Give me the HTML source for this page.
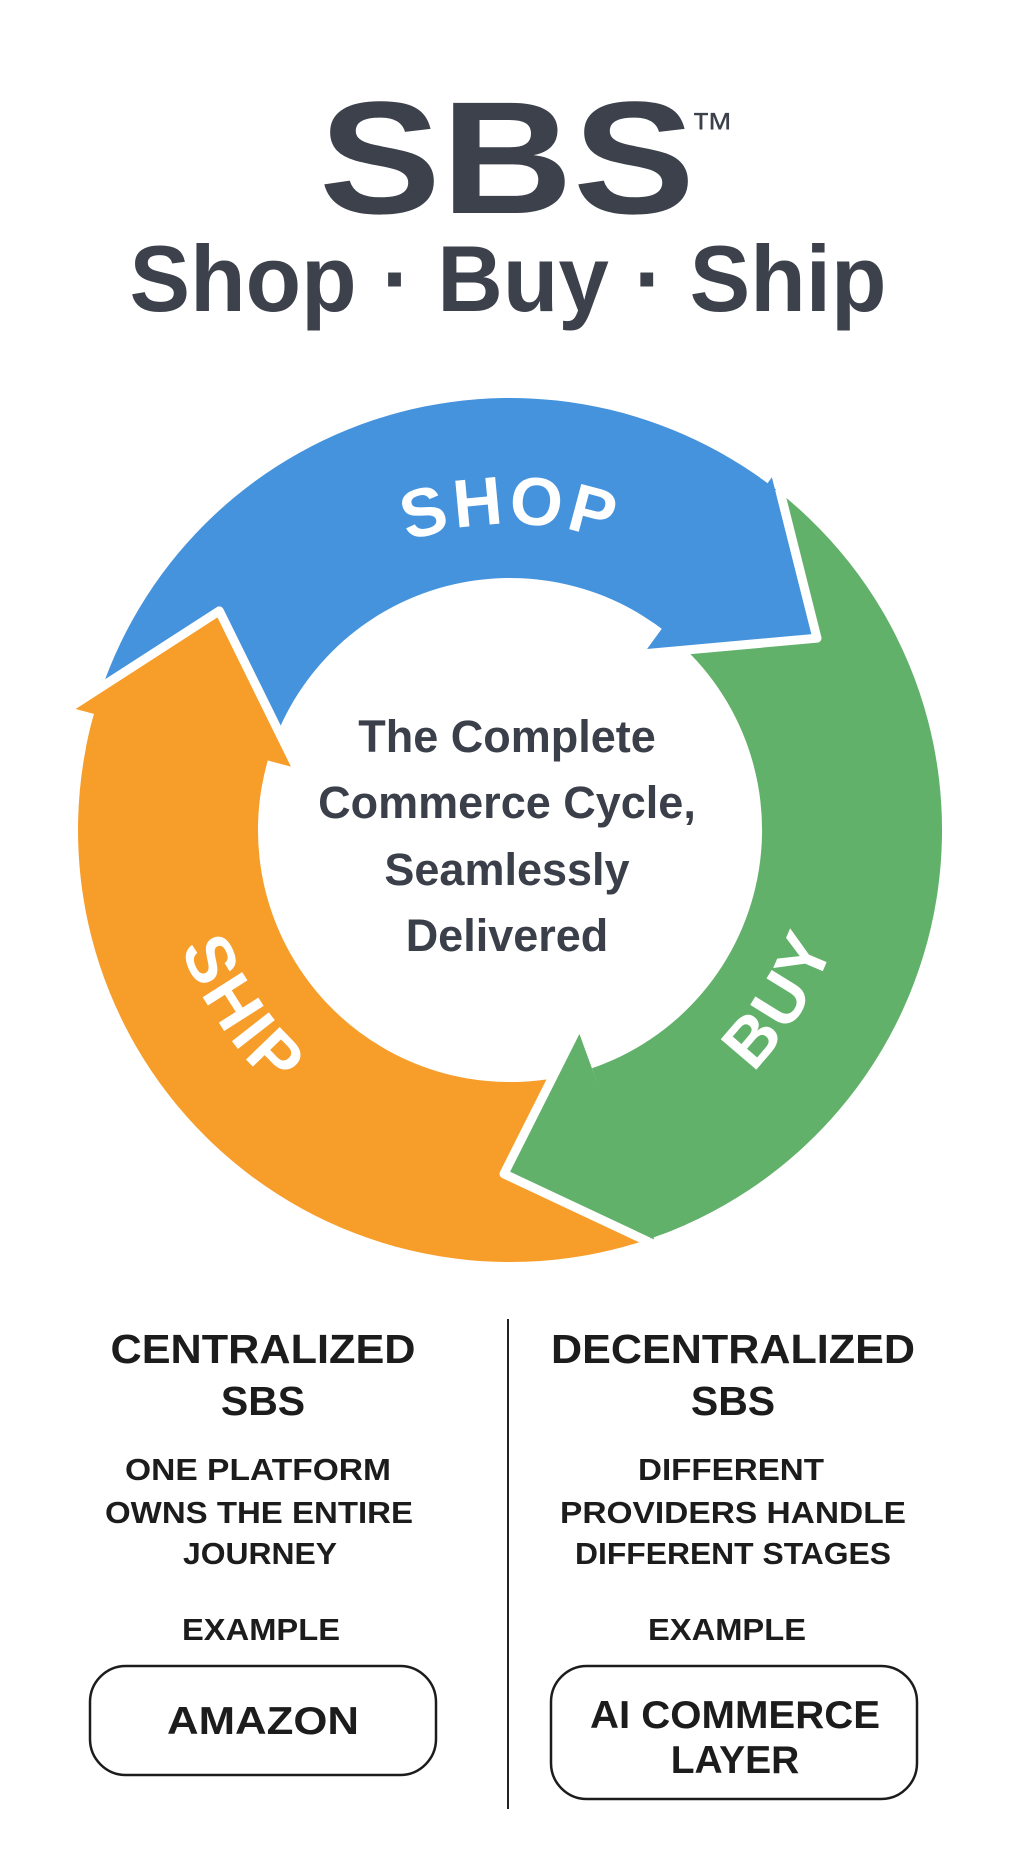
<!DOCTYPE html>
<html><head><meta charset="utf-8"><style>
html,body{margin:0;padding:0;background:#fff;}
svg{display:block;}
</style></head><body>
<svg width="1015" height="1854" viewBox="0 0 1015 1854" xmlns="http://www.w3.org/2000/svg">
<rect width="1015" height="1854" fill="#fff"/>
<g font-family="Liberation Sans, Arial, sans-serif" fill="#3c414b" font-weight="bold" text-anchor="middle">
<text x="507" y="213" font-size="160" textLength="376" lengthAdjust="spacingAndGlyphs">SBS</text>
<text x="712" y="143" font-size="44" font-weight="normal">™</text>
<text x="508" y="311" font-size="94" textLength="757" lengthAdjust="spacingAndGlyphs">Shop · Buy · Ship</text>
</g>
<g stroke="none">
<path fill="#4593DD" d="M92.7,718.2 A432,432 0 0 1 776.0,489.6 L665.2,631.4 A252,252 0 0 0 266.6,764.8 Z"/>
<path fill="#62B16A" d="M763.9,480.5 A432,432 0 0 1 643.5,1240.9 L587.9,1069.7 A252,252 0 0 0 658.1,626.1 Z"/>
<path fill="#F79D2A" d="M643.5,1240.9 A432,432 0 0 1 96.9,703.7 L269.0,756.3 A252,252 0 0 0 587.9,1069.7 Z"/>
</g>
<g stroke="#fff" stroke-width="9" stroke-linejoin="round">
<polygon fill="#4593DD" points="637.6,654.4 773.9,466.8 817.0,638.2"/>
<polygon fill="#62B16A" points="580.1,1022.6 662.2,1248.2 504.0,1173.9"/>
<polygon fill="#F79D2A" points="299.4,773.6 64.7,710.7 219.3,610.9"/>
</g>
<g stroke="none">
<path fill="#4593DD" d="M738.9,463.7 A432,432 0 0 1 776.0,489.6 L665.2,631.4 A252,252 0 0 0 643.5,616.3 Z"/>
<path fill="#62B16A" d="M685.7,1224.6 A432,432 0 0 1 650.7,1238.5 L592.0,1068.3 A252,252 0 0 0 612.5,1060.2 Z"/>
<path fill="#F79D2A" d="M85.9,747.6 A432,432 0 0 1 96.9,703.7 L269.0,756.3 A252,252 0 0 0 262.6,781.9 Z"/>
</g>
<defs>
<path id="pShop" d="M510,1136 A306,306 0 1 1 510,524 A306,306 0 1 1 510,1136"/>
<path id="pBuy" d="M219.1,648.2 A343,343 0 1 0 800.9,1011.8 A343,343 0 1 0 219.1,648.2"/>
<path id="pShip" d="M799.3,634.8 A349,349 0 1 0 220.7,1025.2 A349,349 0 1 0 799.3,634.8"/>
</defs>
<g font-family="Liberation Sans, Arial, sans-serif" font-weight="bold" fill="#fff" font-size="68" text-anchor="middle" letter-spacing="4">
<text><textPath href="#pShop" startOffset="50%">SHOP</textPath></text>
<text><textPath href="#pBuy" startOffset="50%">BUY</textPath></text>
<text><textPath href="#pShip" startOffset="50%">SHIP</textPath></text>
</g>
<g font-family="Liberation Sans, Arial, sans-serif" font-weight="bold" fill="#3a3f4a" font-size="45" text-anchor="middle">
<text x="507" y="752">The Complete</text>
<text x="507" y="818">Commerce Cycle,</text>
<text x="507" y="885">Seamlessly</text>
<text x="507" y="951">Delivered</text>
</g>
<line x1="508" y1="1319" x2="508" y2="1809" stroke="#222" stroke-width="2"/>
<g font-family="Liberation Sans, Arial, sans-serif" fill="#1c1c1c" text-anchor="middle">
<g font-weight="bold" font-size="41">
<text x="263" y="1363" textLength="305" lengthAdjust="spacingAndGlyphs">CENTRALIZED</text>
<text x="263" y="1415">SBS</text>
<text x="733" y="1363" textLength="364" lengthAdjust="spacingAndGlyphs">DECENTRALIZED</text>
<text x="733" y="1415">SBS</text>
</g>
<g font-size="31" font-weight="bold">
<text x="258" y="1480" textLength="266" lengthAdjust="spacingAndGlyphs">ONE PLATFORM</text>
<text x="259" y="1523" textLength="308" lengthAdjust="spacingAndGlyphs">OWNS THE ENTIRE</text>
<text x="260" y="1564" textLength="154" lengthAdjust="spacingAndGlyphs">JOURNEY</text>
<text x="261" y="1640" textLength="158" lengthAdjust="spacingAndGlyphs">EXAMPLE</text>
<text x="731" y="1480" textLength="186" lengthAdjust="spacingAndGlyphs">DIFFERENT</text>
<text x="733" y="1523" textLength="346" lengthAdjust="spacingAndGlyphs">PROVIDERS HANDLE</text>
<text x="733" y="1564" textLength="316" lengthAdjust="spacingAndGlyphs">DIFFERENT STAGES</text>
<text x="727" y="1640" textLength="158" lengthAdjust="spacingAndGlyphs">EXAMPLE</text>
</g>
<rect x="90" y="1666" width="346" height="109" rx="36" fill="none" stroke="#1c1c1c" stroke-width="2.5"/>
<rect x="551" y="1666" width="366" height="133" rx="36" fill="none" stroke="#1c1c1c" stroke-width="2.5"/>
<g font-weight="bold" font-size="39">
<text x="263" y="1734" textLength="192" lengthAdjust="spacingAndGlyphs">AMAZON</text>
<text x="735" y="1728" textLength="290" lengthAdjust="spacingAndGlyphs">AI COMMERCE</text>
<text x="735" y="1773">LAYER</text>
</g>
</g>
</svg>
</body></html>
